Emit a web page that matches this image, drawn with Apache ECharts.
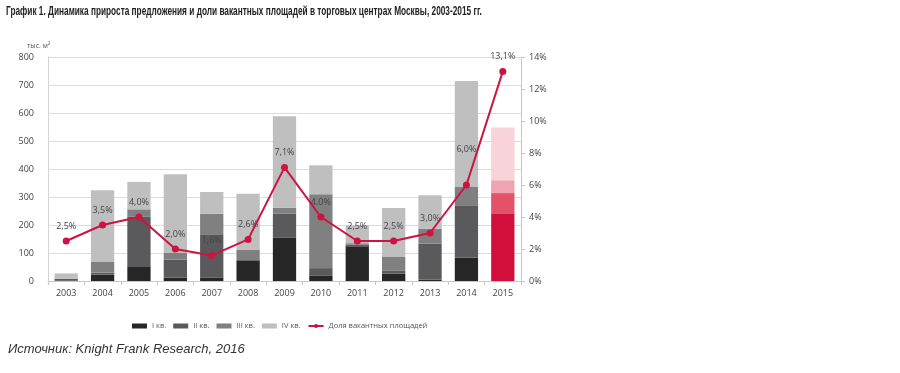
<!DOCTYPE html>
<html>
<head>
<meta charset="utf-8">
<script src="https://cdn.jsdelivr.net/npm/echarts@6/dist/echarts.min.js"></script>
<style>
html,body{margin:0;padding:0;background:#fff;}
#c{width:900px;height:373px;}
</style>
</head>
<body>
<div id="c"></div>
<script>
var years = ['2003','2004','2005','2006','2007','2008','2009','2010','2011','2012','2013','2014','2015'];
var q1 = [2, 23, 50, 12, 12, 74, 154, 20, 124, 26, 5, 83, 239];
var q2 = [6, 7, 179, 64, 155, 0, 86, 26, 6, 12, 128, 185, 75];
var q3 = [0, 38, 27, 24, 73, 38, 22, 264, 5, 48, 54, 68, 46];
var q4 = [19, 256, 98, 281, 78, 200, 326, 103, 64, 175, 119, 378, 188];
var vacancy = [2.5, 3.5, 4.0, 2.0, 1.6, 2.6, 7.1, 4.0, 2.5, 2.5, 3.0, 6.0, 13.1];
var leftTicks = [0, 100, 200, 300, 400, 500, 600, 700, 800];
var rightTicks = [0, 2, 4, 6, 8, 10, 12, 14];

var grayQ = ['#262626', '#5a5a5c', '#808080', '#bfbfbf'];
var redQ = ['#d20f3b', '#e4526a', '#f0a3b1', '#f8d3da'];
var names = ['I кв.', 'II кв.', 'III кв.', 'IV кв.'];
var qs = [q1, q2, q3, q4];

var chart = echarts.init(document.getElementById('c'), null, {renderer: 'canvas'});
var font = 'Open Sans, Liberation Sans, sans-serif';

var series = qs.map(function (arr, i) {
  return {
    name: names[i],
    type: 'bar',
    stack: 'q',
    barWidth: '64%',
    itemStyle: {color: grayQ[i]},
    data: arr.map(function (v, j) {
      if (j === years.length - 1) return {value: v, itemStyle: {color: redQ[i]}};
      return v;
    }),
    z: 2
  };
});
series.push({
  name: 'Доля вакантных площадей',
  type: 'line',
  yAxisIndex: 1,
  data: vacancy.map(function (v, j) {
    if (j === 11) return {value: v, label: {offset: [0, -21]}};
    return v;
  }),
  symbol: 'circle',
  symbolSize: 7,
  lineStyle: {color: '#cc1440', width: 2},
  itemStyle: {color: '#cc1440'},
  label: {
    show: true,
    position: 'top',
    distance: 7,
    color: '#444',
    fontSize: 9,
    fontFamily: font,
    formatter: function (p) { return p.value.toFixed(1).replace('.', ',') + '%'; }
  },
  z: 5
});

chart.setOption({
  animation: false,
  backgroundColor: '#fff',
  graphic: [
    {type: 'text', x: 6, y: 5, scaleX: 0.637,
     style: {text: 'График 1. Динамика прироста предложения и доли вакантных площадей в торговых центрах Москвы, 2003-2015 гг.',
       font: 'bold 13px "Liberation Sans", Arial, sans-serif', fill: '#222'}},
    {type: 'text', x: 8, y: 343,
     style: {text: 'Источник: Knight Frank Research, 2016',
       font: 'italic 13px "Liberation Sans", Arial, sans-serif', fill: '#333'}},
    {type: 'text', x: 27, y: 42,
     style: {text: 'тыс. м²', font: '7px ' + font, fill: '#555'}}
  ],
  grid: {left: 48, right: 379, top: 57, bottom: 92, containLabel: false},
  legend: {
    left: 127, top: 317,
    itemWidth: 15, itemHeight: 5, itemGap: 7,
    textStyle: {fontSize: 7.5, color: '#555', fontFamily: font},
    data: [
      {name: 'I кв.', icon: 'rect'},
      {name: 'II кв.', icon: 'rect'},
      {name: 'III кв.', icon: 'rect'},
      {name: 'IV кв.', icon: 'rect'},
      {name: 'Доля вакантных площадей'}
    ]
  },
  xAxis: {
    type: 'category',
    data: years,
    axisLine: {lineStyle: {color: '#c8c8c8'}},
    axisTick: {show: true, lineStyle: {color: '#c8c8c8'}, length: 4},
    axisLabel: {color: '#444', fontSize: 9, fontFamily: font, margin: 8}
  },
  yAxis: [
    {
      type: 'value', min: leftTicks[0], max: leftTicks[leftTicks.length - 1], interval: 100,
      axisLine: {show: true, lineStyle: {color: '#d4d4d4'}},
      axisTick: {show: false},
      splitLine: {lineStyle: {color: '#dcdcdc', width: 1}},
      axisLabel: {color: '#444', fontSize: 9, fontFamily: font, margin: 14}
    },
    {
      type: 'value', min: rightTicks[0], max: rightTicks[rightTicks.length - 1], interval: 2,
      position: 'right',
      axisLine: {show: true, lineStyle: {color: '#c8c8c8'}},
      axisTick: {show: true, length: 4, lineStyle: {color: '#c8c8c8'}},
      splitLine: {show: false},
      axisLabel: {color: '#444', fontSize: 9, fontFamily: font, margin: 8, formatter: '{value}%'}
    }
  ],
  series: series
});
</script>
</body>
</html>
